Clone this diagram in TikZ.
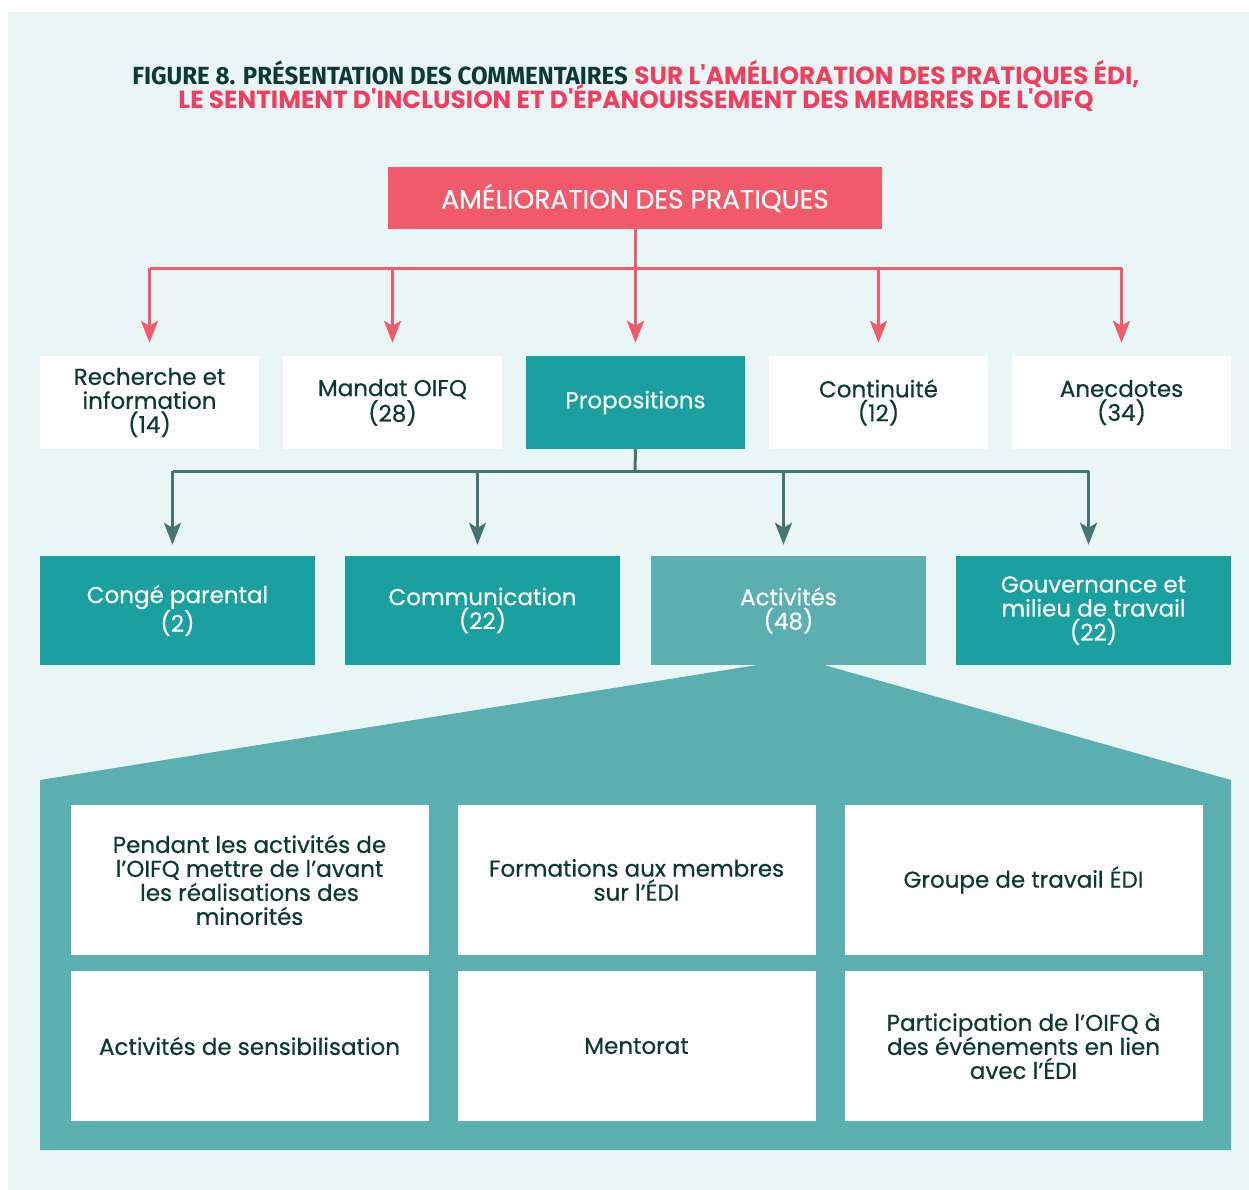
\documentclass[tikz,border=0pt]{standalone}
\usepackage{fontspec}
\setmainfont{Poppins}[FakeBold=0.5]
\newfontfamily\headfont{Fira Sans}
\newfontfamily\redfont{Poppins}
\usetikzlibrary{arrows.meta}
\definecolor{panelbg}{HTML}{EAF6F6}
\definecolor{oifqred}{HTML}{F05A6A}
\definecolor{titlered}{HTML}{F03E5E}
\definecolor{oifqdark}{HTML}{0C3A33}
\definecolor{tealdark}{HTML}{1BA0A0}
\definecolor{teallight}{HTML}{5BAFB0}
\definecolor{tealline}{HTML}{457572}
\tikzset{
	boxtext/.style={font=\fontsize{23}{24}\selectfont, align=center, inner sep=0pt},
	topbox/.style={boxtext, font=\fontsize{26.5}{27}\selectfont, fill=oifqred, text=white, minimum width=494pt, minimum height=62pt},
	catbox/.style={boxtext, fill=white, text=oifqdark, minimum width=219pt, minimum height=93pt},
	propbox/.style={catbox, fill=tealdark, text=white},
	subbox/.style={boxtext, fill=tealdark, text=white, minimum width=275pt, minimum height=109pt},
	itembox/.style={boxtext, fill=white, text=oifqdark, minimum width=358pt, minimum height=150pt},
	redarrow/.style={draw=oifqred, line width=3pt, -{Stealth[length=22pt,width=17pt,inset=5pt]}},
	tealarrow/.style={draw=tealline, line width=3pt, -{Stealth[length=22pt,width=17pt,inset=5pt]}}
}
\begin{document}
\begin{tikzpicture}[x=1pt, y=-1pt]
	\useasboundingbox (0,0) rectangle (1249,1190);
	\fill[panelbg] (8,12) rectangle (1249,1190);
	% title
	\node (title1) at (636,74) {\fontsize{24.8}{26}\selectfont\scalebox{0.97}[1]{\headfont\bfseries\color{oifqdark}FIGURE 8. PRÉSENTATION DES COMMENTAIRES} {\redfont\bfseries\color{titlered}SUR L'AMÉLIORATION DES PRATIQUES ÉDI,}};
	\node (title2) at (636,98) {\fontsize{24.8}{26}\selectfont\redfont\bfseries\color{titlered}LE SENTIMENT D'INCLUSION ET D'ÉPANOUISSEMENT DES MEMBRES DE L'OIFQ};
	% top level
	\node[topbox] (top) at (635,198) {AMÉLIORATION DES PRATIQUES};
	\node[catbox] (rech) at (149.5,402.5) {Recherche et\\information\\(14)};
	\node[catbox] (mandat) at (392.5,402.5) {Mandat OIFQ\\(28)};
	\node[propbox] (prop) at (635.5,402.5) {Propositions};
	\node[catbox] (cont) at (878.5,402.5) {Continuité\\(12)};
	\node[catbox] (anec) at (1121.5,402.5) {Anecdotes\\(34)};
	\coordinate (rbar) at (635,268);
	\draw[oifqred, line width=3pt] (top.south) -- (rbar);
	\draw[oifqred, line width=3pt] (rbar -| rech.north) -- (rbar -| anec.north);
	\foreach \n in {rech,mandat,prop,cont,anec}
		\draw[redarrow, shorten >=13pt] (rbar -| \n.north) -- (\n.north);
	% propositions
	\node[subbox] (conge) at (177.5,610.5) {Congé parental\\(2)};
	\node[subbox] (comm) at (482.5,610.5) {Communication\\(22)};
	\node[subbox, fill=teallight] (activ) at (788.5,610.5) {Activités\\(48)};
	\node[subbox] (gouv) at (1093.5,610.5) {Gouvernance et\\milieu de travail\\(22)};
	\coordinate (tbar) at (635,471);
	\draw[tealline, line width=3pt] (prop.south) -- (tbar);
	\draw[tealline, line width=3pt] ([xshift=-5pt]tbar -| conge.north) -- ([xshift=-5pt]tbar -| gouv.north);
	\foreach \n in {conge,comm,activ,gouv}
		\draw[tealarrow, shorten >=11pt] ([xshift=-5pt]tbar -| \n.north) -- ([xshift=-5pt]\n.north);
	% activites
	\fill[teallight] (757,665) -- (824,665) -- (1231,780) -- (1231,1150) -- (40,1150) -- (40,780) -- cycle;
	\node[itembox] (pendant) at (249.5,880) {Pendant les activités de\\l’OIFQ mettre de l’avant\\les réalisations des\\minorités};
	\node[itembox] (form) at (636.5,880) {Formations aux membres\\sur l’ÉDI};
	\node[itembox] (groupe) at (1023.5,880) {Groupe de travail ÉDI};
	\node[itembox] (sensib) at (249.5,1046) {Activités de sensibilisation};
	\node[itembox] (mentor) at (636.5,1046) {Mentorat};
	\node[itembox] (partic) at (1023.5,1046) {Participation de l’OIFQ à\\des événements en lien\\avec l’ÉDI};
\end{tikzpicture}
\end{document}
